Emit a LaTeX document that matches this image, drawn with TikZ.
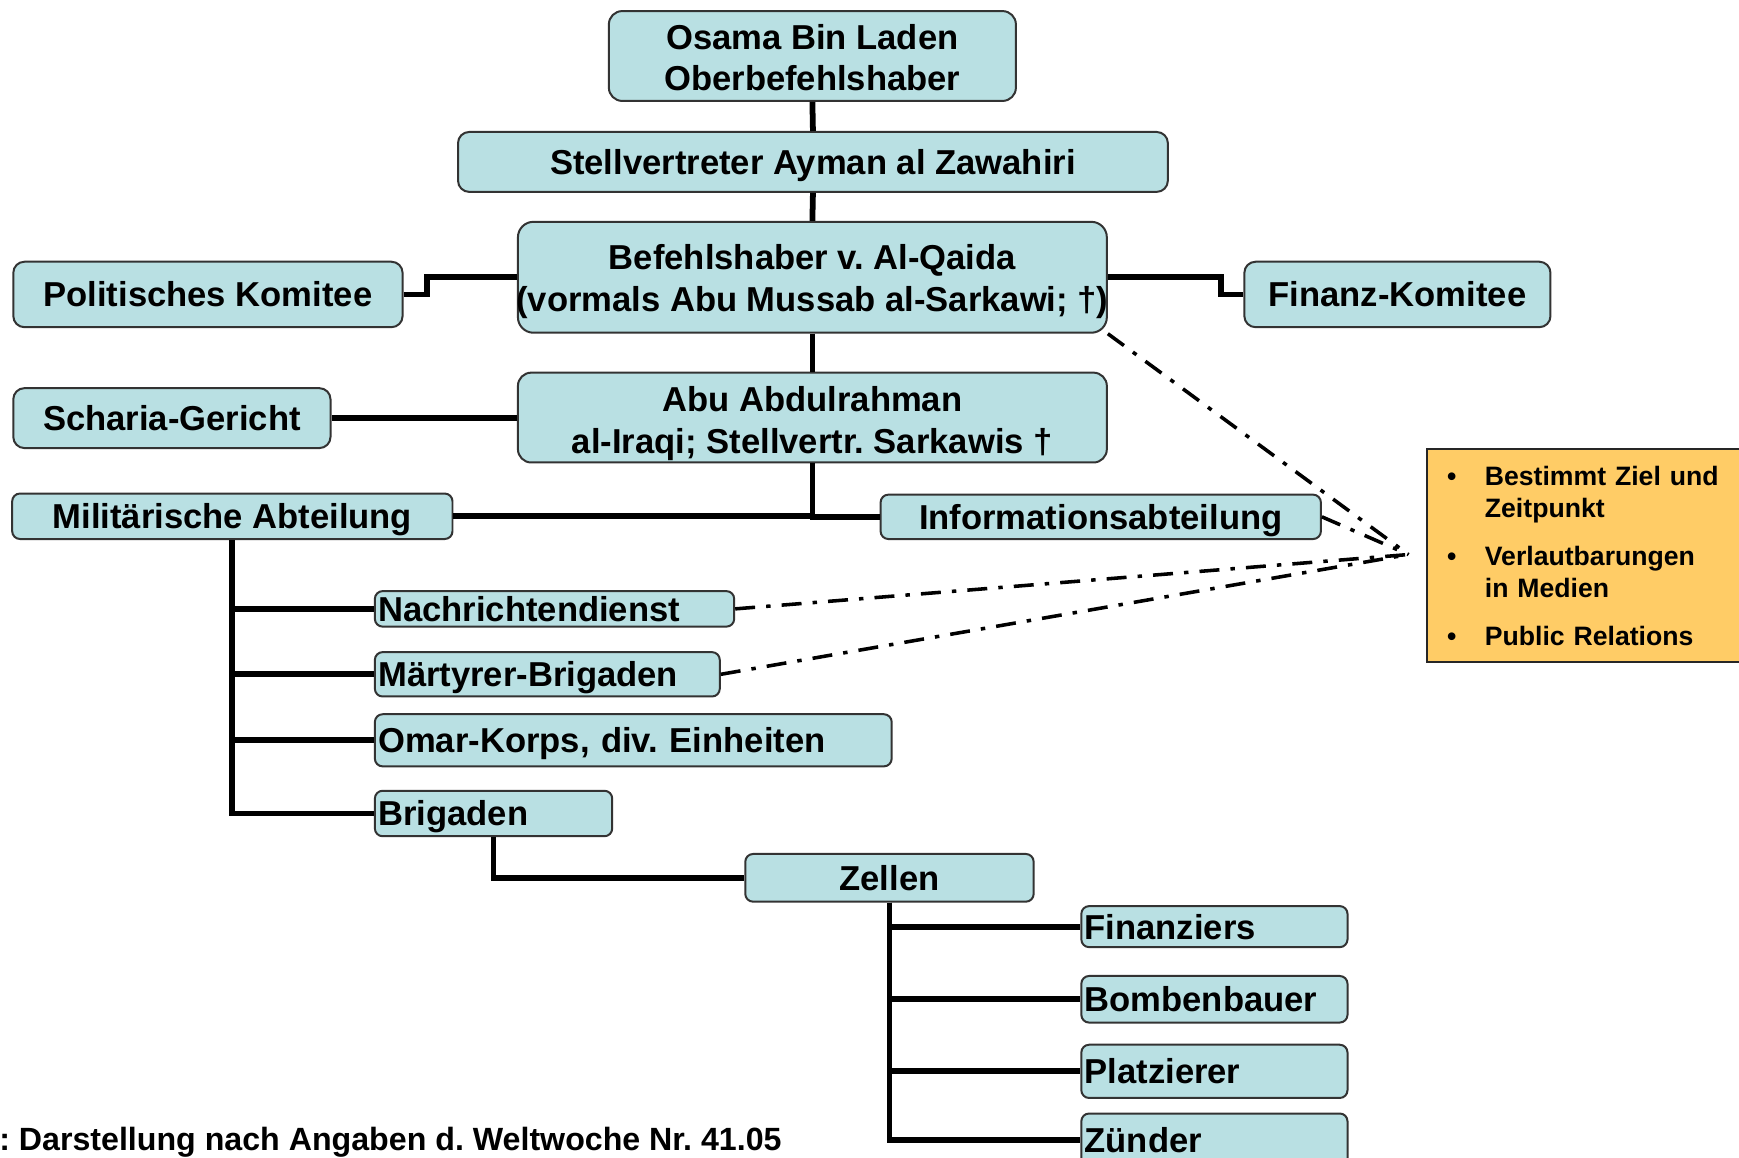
\documentclass[tikz,border=0pt]{standalone}
\usepackage{fontspec}
\setmainfont{Liberation Sans}
\frenchspacing
\definecolor{boxfill}{RGB}{185,224,227}
\definecolor{infofill}{RGB}{255,204,102}
\begin{document}
\frenchspacing
\begin{tikzpicture}[x=0.5pt,y=-0.5pt,
  orgbox/.style={draw=black!80, line width=0.9pt, fill=boxfill, rounded corners=3.5pt,
    inner sep=0pt, font=\fontsize{15.6}{18.5}\selectfont\bfseries\frenchspacing, align=center},
  sz/.style 2 args={minimum width=#1*0.5pt, minimum height=#2*0.5pt},
  one/.style={text height=11.2pt, text depth=0pt},
  lbox/.style={orgbox, align=left, inner xsep=1.5pt, text width=#1*0.5pt-3pt},
  link/.style={line width=2.6pt, draw=black},
  dashlink/.style={line width=1.6pt, draw=black, dash pattern=on 9pt off 5pt on 2pt off 5pt},
]
\useasboundingbox (0,0) rectangle (1568,1044);
\clip (0,0) rectangle (1568,1044);

% nodes
\node[orgbox, sz={367}{81}, rounded corners=6pt] (osama) at (732.5,50.5) {\rule{0pt}{12.4pt}Osama Bin Laden\\Oberbefehlshaber};
\node[orgbox, one, sz={640}{54}, rounded corners=5pt] (stell) at (733,146) {Stellvertreter Ayman al Zawahiri};
\node[orgbox, sz={531}{100}, rounded corners=7pt, font=\fontsize{15.6}{19}\selectfont\bfseries\frenchspacing] (befehl) at (732.5,250) {\rule{0pt}{15.4pt}Befehlshaber v. Al-Qaida\\\makebox[265.5pt]{(vormals Abu Mussab al-Sarkawi; †)}};
\node[orgbox, one, sz={351}{59}, rounded corners=5pt] (polit) at (187.5,265.5) {Politisches Komitee};
\node[orgbox, one, sz={276}{59}, rounded corners=5pt] (finanz) at (1260,265.5) {Finanz-Komitee};
\node[orgbox, one, sz={286}{54}, rounded corners=5pt] (scharia) at (155,377) {Scharia-Gericht};
\node[orgbox, sz={531}{81}, rounded corners=6pt, font=\fontsize{15.6}{19}\selectfont\bfseries\frenchspacing] (abu) at (732.5,376.5) {\rule{0pt}{16.4pt}Abu Abdulrahman\\al-Iraqi; Stellvertr. Sarkawis †};
\node[orgbox, one, sz={397}{41}] (milit) at (209.5,465.5) {Militärische Abteilung};
\node[orgbox, one, sz={397}{40}] (info) at (992.5,466) {Informationsabteilung};
\node[lbox={324}, one, minimum height=16pt] (nachr) at (500,549) {Nachrichtendienst};
\node[lbox={311}, one, minimum height=20pt] (maert) at (493.5,608) {Märtyrer-Brigaden};
\node[lbox={466}, one, minimum height=23.5pt] (omar) at (571,667.5) {Omar-Korps, div. Einheiten};
\node[lbox={214}, one, minimum height=20.5pt] (brig) at (445,733.5) {Brigaden};
\node[orgbox, one, sz={260}{43}] (zellen) at (802,791.5) {Zellen};
\node[lbox={240}, one, minimum height=18.5pt] (finz) at (1095,835.5) {Finanziers};
\node[lbox={240}, one, minimum height=21pt] (bomb) at (1095,901) {Bombenbauer};
\node[lbox={240}, one, minimum height=24pt] (platz) at (1095,966) {Platzierer};
\node[lbox={240}, one, minimum height=24pt] (zuend) at (1095,1028) {Zünder};

\node[draw=black!85, line width=0.9pt, fill=infofill, anchor=west,
  minimum height=96pt, inner xsep=9pt, inner ysep=0pt, text width=132pt, align=left,
  font=\fontsize{12}{14.5}\selectfont\bfseries] (pr) at (1286,501)
  {\makebox[17pt][l]{•}Bestimmt Ziel und\\
   \hspace*{17pt}Zeitpunkt\\[7pt]
   \makebox[17pt][l]{•}Verlautbarungen\\
   \hspace*{17pt}in Medien\\[7pt]
   \makebox[17pt][l]{•}Public Relations};

\node[anchor=base west, inner sep=0pt, font=\fontsize{14.5}{17}\selectfont\bfseries\frenchspacing] (src) at (-1,1037)
  {: Darstellung nach Angaben d. Weltwoche Nr. 41.05};

% connectors
\draw[link] (osama.south) -- (stell.north);
\draw[link] (stell.south) -- (befehl.north);
\draw[link] (befehl.south) -- (abu.north);
\draw[link] (abu.south) |- (milit.east);
\draw[link] (abu.south) |- (info.west);
\draw[link] (polit.east) -- ++(21,0) |- (befehl.west);
\draw[link] (befehl.east) -- ++(102,0) |- (finanz.west);
\draw[link] (scharia.east) -- (abu.west |- scharia.east);
\foreach \t in {nachr,maert,omar,brig} \draw[link] (milit.south) |- (\t.west);
\draw[link] (brig.south) |- (zellen.west);
\foreach \t in {finz,bomb,platz,zuend} \draw[link] (zellen.south) |- (\t.west);

% dash-dot links
\coordinate (hub) at (1270,500);
\draw[dashlink] (befehl.south east) -- (hub);
\draw[dashlink] (info.east) -- (hub);
\draw[dashlink] (nachr.east) -- (hub);
\draw[dashlink] (maert.east) -- (hub);
\end{tikzpicture}
\end{document}
